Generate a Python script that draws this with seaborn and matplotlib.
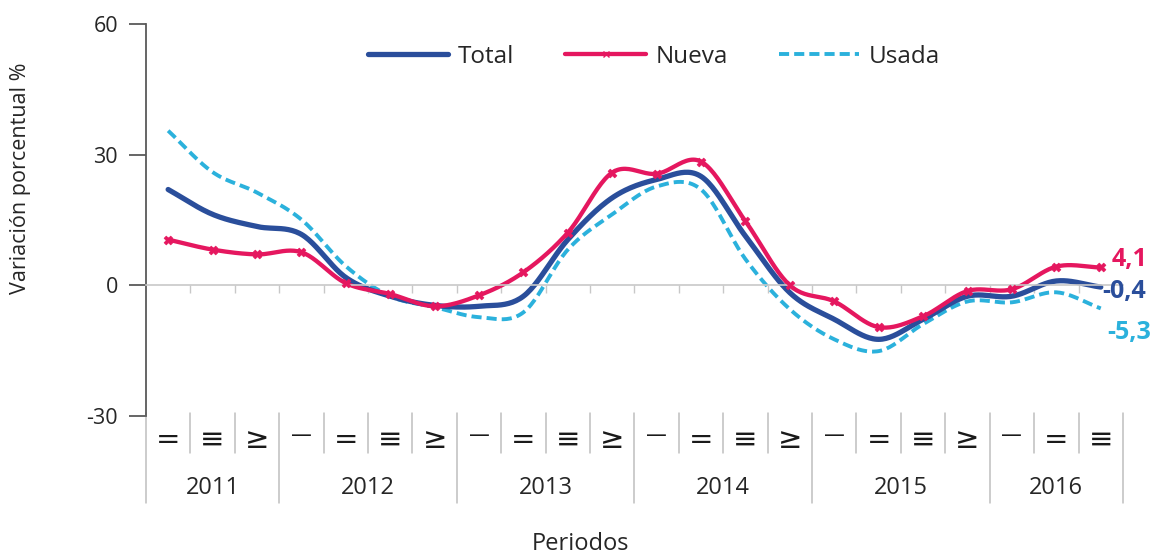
import numpy as np
import pandas as pd
import matplotlib
matplotlib.use("Agg")
import matplotlib.pyplot as plt
import seaborn as sns
from matplotlib.lines import Line2D

# ---------------- data ----------------
period_years = [2011] * 3 + [2012] * 4 + [2013] * 4 + [2014] * 4 + [2015] * 4 + [2016] * 3
period_quarters = [2, 3, 4] + [1, 2, 3, 4] * 4 + [1, 2, 3]
quarter_glyphs = {1: "\u2014", 2: "=", 3: "\u2261", 4: "\u2265"}

total = [22.0, 16.3, 13.5, 11.7, 1.8, -2.5, -4.6, -4.8, -2.5, 10.5, 20.1, 24.3,
         25.0, 11.3, -1.7, -7.8, -12.4, -7.8, -2.5, -2.5, 1.0, -0.4]
nueva = [10.5, 8.2, 7.1, 7.6, 0.5, -2.0, -4.8, -2.3, 3.0, 12.1, 25.9, 25.6,
         28.4, 14.7, 0.0, -3.7, -9.6, -7.1, -1.3, -0.9, 4.3, 4.1]
usada = [35.5, 26.0, 21.3, 15.1, 4.4, -2.5, -5.0, -7.3, -6.2, 8.2, 16.3, 22.7,
         22.0, 6.0, -5.5, -12.4, -15.1, -8.9, -3.7, -3.9, -1.6, -5.3]

series_names = ["Total", "Nueva", "Usada"]
colors = {"Total": "#2A4E9B", "Nueva": "#E5175F", "Usada": "#2BB1DC"}


def smooth(y, n=24):
    """Catmull-Rom curve through the data points (drawing style only)."""
    y = np.asarray(y, float)
    p = np.concatenate([[2 * y[0] - y[1]], y, [2 * y[-1] - y[-2]]])
    xs, ys = [], []
    for i in range(len(y) - 1):
        p0, p1, p2, p3 = p[i], p[i + 1], p[i + 2], p[i + 3]
        t = np.linspace(0, 1, n, endpoint=False)
        ys.append(0.5 * ((2 * p1) + (-p0 + p2) * t + (2 * p0 - 5 * p1 + 4 * p2 - p3) * t ** 2
                         + (-p0 + 3 * p1 - 3 * p2 + p3) * t ** 3))
        xs.append(i + t)
    xs.append([len(y) - 1])
    ys.append([y[-1]])
    return np.concatenate(xs), np.concatenate(ys)


sns.set_theme(style="white")
plt.rcParams["font.family"] = ["Open Sans", "DejaVu Sans"]

fig = plt.figure(figsize=(11.62, 5.54), dpi=100)
ax = fig.add_axes([0.1256, 0.2491, 0.8408, 0.7076])

values = {"Total": total, "Nueva": nueva, "Usada": usada}
styles = {"Total": dict(lw=3.8, ls="-"),
          "Nueva": dict(lw=3.1, ls="-"),
          "Usada": dict(lw=2.8, ls=(0, (2.6, 1.3)))}

for name in ["Usada", "Total", "Nueva"]:
    sx, sy = smooth(values[name])
    df = pd.DataFrame({"x": sx, "y": sy})
    sns.lineplot(data=df, x="x", y="y", ax=ax, color=colors[name], sort=False,
                 estimator=None, linewidth=styles[name]["lw"],
                 linestyle=styles[name]["ls"], solid_capstyle="round")

dfm = pd.DataFrame({"x": np.arange(len(nueva)), "y": nueva})
sns.scatterplot(data=dfm, x="x", y="y", ax=ax, marker="X", s=40,
                color=colors["Nueva"], edgecolor=colors["Nueva"], linewidth=0.5, zorder=5)

# axes styling
ax.set_xlim(-0.5, len(total) - 0.5)
ax.set_ylim(-30, 60)
ax.set_yticks([-30, 0, 30, 60])
ax.set_yticklabels(["-30", "0", "30", "60"], fontsize=15.5, color="#262626")
ax.tick_params(axis="y", left=True, direction="out", length=12, width=1.3,
               color="#595959", pad=8)
ax.spines["left"].set_color("#595959")
ax.spines["left"].set_linewidth(1.3)
ax.spines["top"].set_visible(False)
ax.spines["right"].set_visible(False)
ax.spines["bottom"].set_position(("data", 0))
ax.spines["bottom"].set_color("#C8C8C8")
ax.spines["bottom"].set_linewidth(1.2)
bounds = np.arange(len(total) + 1) - 0.5
ax.set_xticks(bounds[1:-1])
ax.set_xticklabels([])
ax.tick_params(axis="x", bottom=True, direction="out", length=6, width=1, color="#C8C8C8")
ax.set_xlabel("")
ax.set_ylabel("")

# multi-level category axis below the plot
tr = ax.get_xaxis_transform()
year_starts = {0} | {i for i in range(1, len(period_years)) if period_years[i] != period_years[i - 1]} | {len(period_years)}
for k, b in enumerate(bounds):
    y_end = -0.222 if k in year_starts else -0.094
    ax.plot([b, b], [0.008, y_end], transform=tr, color="#BFBFBF", lw=1.1, clip_on=False)
for i, q in enumerate(period_quarters):
    if q == 1:
        ax.text(i, -0.048, quarter_glyphs[q], transform=tr, ha="center", va="center",
                fontsize=15, color="#1a1a1a", fontfamily="DejaVu Sans")
    else:
        ax.text(i, -0.060, quarter_glyphs[q], transform=tr, ha="center", va="center",
                fontsize=21, color="#1a1a1a", fontfamily="DejaVu Sans")
for yr in sorted(set(period_years)):
    idx = [i for i, v in enumerate(period_years) if v == yr]
    ax.text(np.mean(idx), -0.184, str(yr), transform=tr, ha="center", va="center",
            fontsize=17, color="#262626")

fig.text(0.5, 0.018, "Periodos", ha="center", va="center", fontsize=17, color="#262626")
fig.text(0.018, 0.679, "Variación porcentual %", rotation=90, ha="center", va="center",
         fontsize=15.5, color="#262626")

# end labels
last = len(total) - 1
end_offsets = {"Nueva": (8, 6), "Total": (1, -3), "Usada": (5, -17)}
for name in ["Nueva", "Total", "Usada"]:
    v = values[name][-1]
    ax.annotate(f"{v:.1f}".replace(".", ","), xy=(last, v), xytext=end_offsets[name],
                textcoords="offset points", ha="left", va="center", fontsize=18,
                fontweight="bold", color=colors[name], annotation_clip=False)

# legend
handles = [
    Line2D([], [], color=colors["Total"], lw=3.8, solid_capstyle="round"),
    Line2D([], [], color=colors["Nueva"], lw=3.1, marker="x", markersize=5,
           markeredgewidth=1, solid_capstyle="round"),
    Line2D([], [], color=colors["Usada"], lw=2.8, ls=(0, (2.6, 1.3))),
]
ax.legend(handles, series_names, loc="center", bbox_to_anchor=(0.52, 0.916), ncol=3,
          frameon=False, fontsize=17.5, handlelength=3.3, handletextpad=0.4,
          columnspacing=2.1, markerfirst=True)

fig.savefig("out.png", dpi=100)
